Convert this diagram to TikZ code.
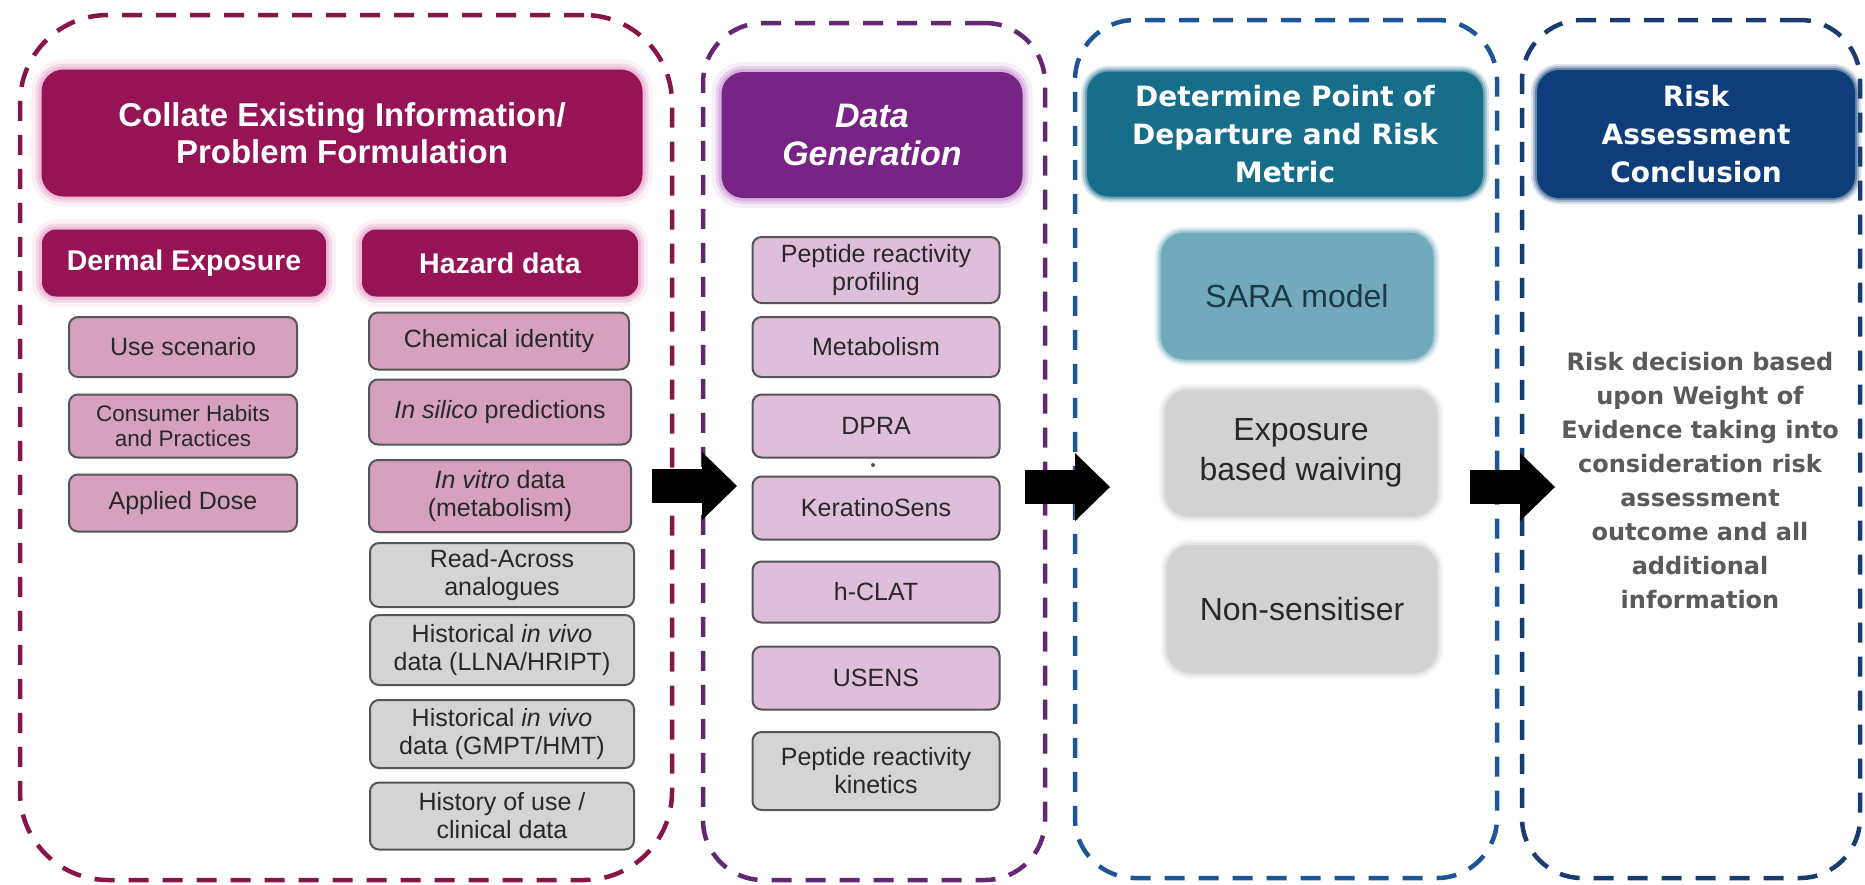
\documentclass[tikz,border=0pt]{standalone}
\usepackage{fontspec}
\setmainfont{Liberation Sans}
\newfontfamily\dvsans{DejaVu Sans}
\usetikzlibrary{arrows.meta}

% palette
\definecolor{cMaroon}{RGB}{150,20,86}
\definecolor{cMaroonGlow}{RGB}{226,140,188}
\definecolor{cPurple}{RGB}{120,36,134}
\definecolor{cPurpleGlow}{RGB}{185,120,200}
\definecolor{cTeal}{RGB}{22,110,138}
\definecolor{cNavy}{RGB}{14,62,122}
\definecolor{cPink}{RGB}{213,161,189}
\definecolor{cLilac}{RGB}{222,190,216}
\definecolor{cGreyBox}{RGB}{212,212,212}
\definecolor{cSara}{RGB}{112,170,188}
\definecolor{cSoftGrey}{RGB}{210,210,210}
\definecolor{cBorder}{RGB}{85,85,85}
\definecolor{cText}{RGB}{40,40,40}
\definecolor{cSaraText}{RGB}{30,55,70}
\definecolor{cBody}{RGB}{90,90,90}
\definecolor{cDashA}{RGB}{135,22,72}
\definecolor{cDashB}{RGB}{100,40,115}
\definecolor{cDashC}{RGB}{30,85,150}
\definecolor{cDashD}{RGB}{25,60,110}

\begin{document}
\begin{tikzpicture}[x=1pt,y=-1pt,
  panel/.style={rectangle, draw=#1, line width=4.5pt, dash pattern=on 20pt off 14pt, inner sep=0pt},
  glow/.style={preaction={draw=#1, line width=20pt, opacity=0.12},
               preaction={draw=#1, line width=12pt, opacity=0.25},
               preaction={draw=#1, line width=6pt, opacity=0.35}},
  soft/.style={preaction={draw=#1, line width=12pt, opacity=0.15},
               preaction={draw=#1, line width=8pt, opacity=0.25},
               preaction={draw=#1, line width=4pt, opacity=0.4}},
  titlebox/.style={rectangle, rounded corners=22pt, fill=#1, text=white, align=center, inner sep=0pt},
  headfont/.style={font=\fontsize{33}{37}\selectfont\bfseries},
  subfont/.style={font=\fontsize{28.5}{31}\selectfont\bfseries},
  widefont/.style={font=\dvsans\bfseries\fontsize{28}{38}\selectfont},
  item/.style={rectangle, rounded corners=9pt, draw=cBorder, line width=2pt, fill=#1, text=cText,
               font=\fontsize{25}{28}\selectfont, align=center, inner sep=0pt},
  softbox/.style={rectangle, rounded corners=24pt, fill=#1, soft=#1,
               text=cText, font=\fontsize{32}{40}\selectfont, align=center, inner sep=0pt},
  bigarrow/.style={line width=34pt, black, -{Triangle[length=35pt 0 0, width=68pt 0 0, line width=0pt]}}
]
\useasboundingbox (0,0) rectangle (1865,884);
\fill[white] (0,0) rectangle (1865,884);

% dashed stage frames
\node[panel=cDashA, rounded corners=88pt, minimum width=652pt, minimum height=865pt] (p1) at (346,447.5) {};
\node[panel=cDashB, rounded corners=60pt, minimum width=342pt, minimum height=857pt] (p2) at (874,451.5) {};
\node[panel=cDashC, rounded corners=60pt, minimum width=422pt, minimum height=858pt] (p3) at (1286,449) {};
\node[panel=cDashD, rounded corners=60pt, minimum width=338pt, minimum height=858pt] (p4) at (1691,449) {};

% stage 1: collate existing information
\node[titlebox=cMaroon, glow=cMaroonGlow, headfont, minimum width=601pt, minimum height=127pt] (t1) at (342,133)
  {Collate Existing Information/\\Problem Formulation};
\node[titlebox=cMaroon, glow=cMaroonGlow, subfont, rounded corners=14pt, minimum width=284pt, minimum height=67pt] (dermal) at (184,263) {Dermal Exposure};
\node[titlebox=cMaroon, glow=cMaroonGlow, subfont, rounded corners=14pt, minimum width=276pt, minimum height=67pt] (hazard) at (500,263) {Hazard data};

\node[item=cPink, minimum width=228pt, minimum height=60pt] (use) at (183,347) {Use scenario};
\node[item=cPink, minimum width=228pt, minimum height=63pt, font=\fontsize{22.5}{25}\selectfont] (habits) at (183,426) {Consumer Habits\\and Practices};
\node[item=cPink, minimum width=228pt, minimum height=57pt] (dose) at (183,503) {Applied Dose};

\node[item=cPink, minimum width=260pt, minimum height=57pt] (chem) at (499,341) {Chemical identity};
\node[item=cPink, minimum width=262pt, minimum height=65pt] (silico) at (500,412) {\textit{In silico} predictions};
\node[item=cPink, minimum width=262pt, minimum height=72pt] (vitro) at (500,496) {\textit{In vitro} data\\(metabolism)};
\node[item=cGreyBox, minimum width=264pt, minimum height=64pt] (read) at (502,575) {Read-Across\\analogues};
\node[item=cGreyBox, minimum width=264pt, minimum height=70pt] (llna) at (502,650) {Historical \textit{in vivo}\\data (LLNA/HRIPT)};
\node[item=cGreyBox, minimum width=264pt, minimum height=68pt] (gmpt) at (502,734) {Historical \textit{in vivo}\\data (GMPT/HMT)};
\node[item=cGreyBox, minimum width=264pt, minimum height=67pt] (clin) at (502,816) {History of use /\\clinical data};

% stage 2: data generation
\node[titlebox=cPurple, glow=cPurpleGlow, minimum width=301pt, minimum height=126pt,
      font=\fontsize{34}{38}\selectfont\bfseries\itshape] (t2) at (872,135) {Data\\Generation};
\node[item=cLilac, minimum width=247pt, minimum height=66pt] (pprof) at (876,270) {Peptide reactivity\\profiling};
\node[item=cLilac, minimum width=247pt, minimum height=60pt] (metab) at (876,347) {Metabolism};
\node[item=cLilac, minimum width=247pt, minimum height=63pt] (dpra) at (876,426) {DPRA};
\fill[cBorder] (873,465) circle (2pt);
\node[item=cLilac, minimum width=247pt, minimum height=63pt] (kera) at (876,508) {KeratinoSens};
\node[item=cLilac, minimum width=247pt, minimum height=61pt] (hclat) at (876,592) {h-CLAT};
\node[item=cLilac, minimum width=247pt, minimum height=63pt] (usens) at (876,678) {USENS};
\node[item=cGreyBox, minimum width=247pt, minimum height=78pt] (pkin) at (876,771) {Peptide reactivity\\kinetics};

% stage 3: point of departure and risk metric
\node[titlebox=cTeal, soft=cTeal, widefont, minimum width=396pt, minimum height=125pt] (t3) at (1285,134)
  {Determine Point of\\Departure and Risk\\Metric};
\node[softbox=cSara, text=cSaraText, minimum width=273pt, minimum height=127pt] (sara) at (1297,296) {SARA model};
\node[softbox=cSoftGrey, minimum width=273pt, minimum height=127pt] (waive) at (1301,453) {Exposure\\based waiving};
\node[softbox=cSoftGrey, minimum width=271pt, minimum height=128pt] (nonsens) at (1302,609) {Non-sensitiser};

% stage 4: conclusion
\node[titlebox=cNavy, soft=cNavy, widefont, minimum width=318pt, minimum height=128pt] (t4) at (1696,134)
  {Risk\\Assessment\\Conclusion};
\node[text=cBody, align=center, font=\dvsans\bfseries\fontsize{24}{34}\selectfont] (rdec) at (1700,481)
  {Risk decision based\\upon Weight of\\Evidence taking into\\consideration risk\\assessment\\outcome and all\\additional\\information};

% flow arrows between stages
\coordinate (a1s) at (652,486);  \coordinate (a1e) at (737,486);
\coordinate (a2s) at (1025,487); \coordinate (a2e) at (1110,487);
\coordinate (a3s) at (1470,487); \coordinate (a3e) at (1555,487);
\draw[bigarrow] (a1s) -- (a1e);
\draw[bigarrow] (a2s) -- (a2e);
\draw[bigarrow] (a3s) -- (a3e);
\end{tikzpicture}
\end{document}
